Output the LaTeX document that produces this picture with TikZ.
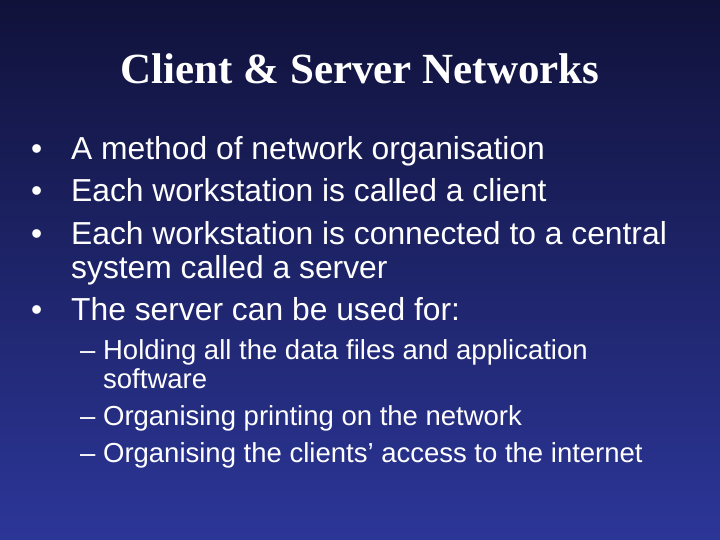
\documentclass[tikz,border=0pt]{standalone}
\usepackage{fontspec}
\setmainfont{Liberation Sans}
\newfontfamily\titlefont{Liberation Serif}
\definecolor{bgtop}{HTML}{10123A}
\definecolor{bgbot}{HTML}{2C3698}
\begin{document}
\begin{tikzpicture}[x=1pt,y=-1pt,
  body/.style={anchor=base west,inner sep=0pt,text=white,font=\fontsize{31.8}{34}\selectfont},
  sub/.style={anchor=base west,inner sep=0pt,text=white,font=\fontsize{27.5}{30}\selectfont}]
\shade[top color=bgtop,bottom color=bgbot] (0,0) rectangle (720,540);
\useasboundingbox (0,0) rectangle (720,540);
\node[text=white,font=\titlefont\bfseries\fontsize{43}{46}\selectfont] (title) at (360,69) {Client \& Server Networks};
\foreach \n/\y in {b1/160,b2/202,b3/244,b4/320}{\node[body] (\n) at (31,\y) {•};}
\node[body] (t1) at (71,160) {A method of network organisation};
\node[body] (t2) at (71,202) {Each workstation is called a client};
\node[body] (t3) at (71,244) {Each workstation is connected to a central};
\node[body] (t3b) at (71,278) {system called a server};
\node[body] (t4) at (71,320) {The server can be used for:};
\node[sub] (s1) at (80,359) {– Holding all the data files and application};
\node[sub] (s1b) at (103,388) {software};
\node[sub] (s2) at (80,425) {– Organising printing on the network};
\node[sub] (s3) at (80,462) {– Organising the clients’ access to the internet};
\end{tikzpicture}
\end{document}
